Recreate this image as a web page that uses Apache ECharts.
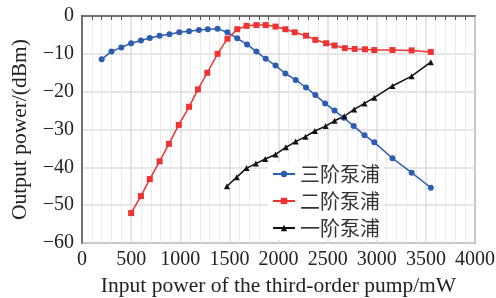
<!DOCTYPE html>
<html>
<head>
<meta charset="utf-8">
<script src="https://cdn.jsdelivr.net/npm/echarts@6/dist/echarts.min.js"></script>
<style>
html,body{margin:0;padding:0;background:#fff;}
#c{width:496px;height:298px;}
</style>
</head>
<body>
<div id="c"></div>
<script>
const seriesNames = ['三阶泵浦', '二阶泵浦', '一阶泵浦'];
const xTicks = [0, 500, 1000, 1500, 2000, 2500, 3000, 3500, 4000];
const yTicks = [-60, -50, -40, -30, -20, -10, 0];

const thirdX = [200,300,400,500,600,690,790,890,990,1090,1190,1280,1380,1480,1580,1680,1775,1870,1970,2070,2175,2280,2375,2475,2570,2665,2765,2875,2975,3160,3355,3550];
const thirdY = [-11.4,-9.4,-8.3,-7.2,-6.5,-5.8,-5.2,-4.8,-4.3,-4.0,-3.7,-3.5,-3.4,-4.3,-5.9,-7.5,-9.4,-11.3,-13.1,-15.2,-16.9,-18.9,-20.9,-23.1,-25.0,-26.9,-29.1,-31.5,-33.4,-37.6,-41.4,-45.4];

const secondX = [500,600,690,790,885,985,1090,1180,1275,1380,1480,1580,1675,1775,1870,1970,2070,2165,2280,2375,2485,2570,2675,2775,2880,2975,3160,3355,3550];
const secondY = [-52.1,-47.6,-43.1,-38.4,-33.8,-28.8,-24.0,-19.4,-15.0,-10.0,-6.0,-3.5,-2.6,-2.4,-2.4,-2.8,-3.5,-4.3,-5.2,-6.3,-7.2,-7.8,-8.5,-8.7,-8.8,-9.0,-9.0,-9.1,-9.5];

const firstX = [1475,1575,1675,1770,1865,1970,2075,2175,2275,2370,2480,2570,2670,2770,2875,2975,3160,3355,3550];
const firstY = [-45.0,-42.6,-40.2,-39.0,-37.8,-36.6,-34.7,-33.2,-31.9,-30.4,-29.1,-27.7,-26.5,-24.7,-23.1,-21.6,-18.5,-15.9,-12.2];

const pairs = (xs, ys) => xs.map((x, i) => [x, ys[i]]);
const serif = '"Liberation Serif", "Times New Roman", serif';

const chart = echarts.init(document.getElementById('c'), null, {renderer: 'canvas'});
chart.setOption({
  animation: false,
  backgroundColor: '#fff',
  grid: {left: 82, right: 21, top: 16, bottom: 55, outerBoundsMode: 'none', containLabel: false,
         show: true, borderColor: '#666', borderWidth: 1.5},
  xAxis: {
    type: 'value', min: xTicks[0], max: xTicks[xTicks.length-1], interval: 500,
    name: 'Input power of the third-order pump/mW', nameLocation: 'middle', nameGap: 31,
    nameTextStyle: {fontFamily: serif, fontSize: 21.5, color: '#222'},
    axisLine: {show: true, lineStyle: {color: '#555', width: 1.5}},
    axisTick: {show: false},
    minorTick: {show: true, splitNumber: 5, length: 4, lineStyle: {color: '#555', width: 1}},
    axisLabel: {fontFamily: serif, fontSize: 20, color: '#222', margin: 7,
      formatter: v => String(v)},
    splitLine: {show: true, lineStyle: {color: '#dcdcdc', width: 1.5}},
    minorSplitLine: {show: true, lineStyle: {color: '#ebebeb', width: 1}}
  },
  yAxis: {
    type: 'value', min: yTicks[0], max: yTicks[yTicks.length-1], interval: 10,
    name: 'Output power/(dBm)', nameLocation: 'middle', nameGap: 51,
    nameTextStyle: {fontFamily: serif, fontSize: 21.5, color: '#222'},
    axisLine: {show: true, lineStyle: {color: '#555', width: 1.5}},
    axisTick: {show: false},
    axisLabel: {fontFamily: serif, fontSize: 20, color: '#222', margin: 8,
      formatter: v => v < 0 ? '\u2212' + Math.abs(v) : String(v)},
    splitLine: {show: true, lineStyle: {color: '#dcdcdc', width: 1.5}}
  },
  legend: {
    orient: 'vertical', left: 268, top: 162, itemGap: 7, itemWidth: 22, itemHeight: 8,
    backgroundColor: '#fff', padding: [2, 4, 2, 4],
    textStyle: {fontFamily: '"Noto Sans CJK SC", sans-serif', fontSize: 20, color: '#333'},
    data: seriesNames
  },
  series: [
    {name: seriesNames[0], type: 'line', data: pairs(thirdX, thirdY), symbol: 'circle', symbolSize: 6,
     lineStyle: {color: '#2e5cb0', width: 1.5}, itemStyle: {color: '#2e5cb0'}, z: 3},
    {name: seriesNames[1], type: 'line', data: pairs(secondX, secondY), symbol: 'rect', symbolSize: 6,
     lineStyle: {color: '#ee3333', width: 1.5}, itemStyle: {color: '#ee3333'}, z: 3},
    {name: seriesNames[2], type: 'line', data: pairs(firstX, firstY), symbol: 'triangle', symbolSize: 6,
     lineStyle: {color: '#111', width: 1.5}, itemStyle: {color: '#111'}, z: 3}
  ]
});
</script>
</body>
</html>
